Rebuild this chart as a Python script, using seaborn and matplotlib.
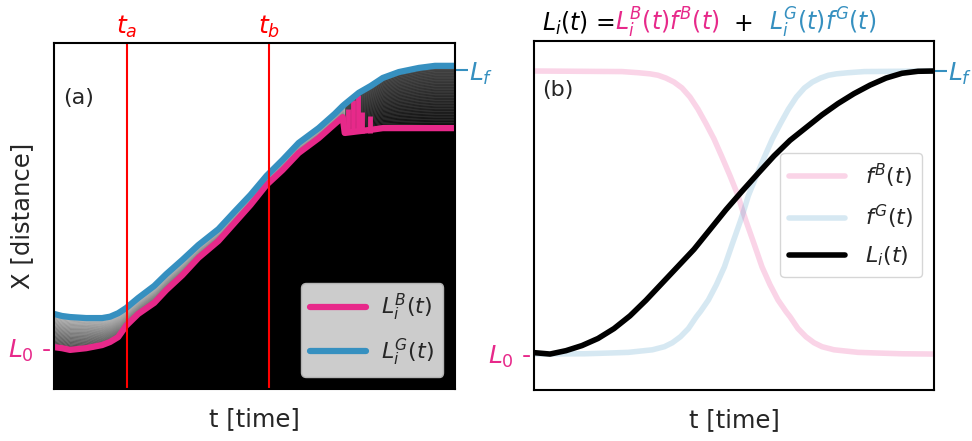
import numpy as np
import matplotlib
matplotlib.use("Agg")
import matplotlib.pyplot as plt
import seaborn as sns

sns.set_style("white")
plt.rcParams["font.family"] = ["DejaVu Sans"]
plt.rcParams["mathtext.fontset"] = "dejavusans"

PINK = "#e7298a"
BLUE = "#3690c0"

# ---- panel (a): fronts traced on the kymograph (time 0-100, distance 0-100)
time_a = [0, 2, 4, 8, 12, 14, 16, 18, 21, 25, 28, 32, 36, 41, 45, 49, 53,
          57, 61, 66, 70, 72, 72.5, 76, 79, 82, 86, 91, 95, 100]
front_G = [21.7, 21.1, 20.8, 20.5, 20.5, 20.9, 21.9, 23.4, 26.3, 29.8, 33.2,
           37.3, 41.6, 46.2, 51.2, 56.1, 61.6, 66.2, 71.1, 75.4, 79.5, 81.8,
           82.3, 85.6, 87.6, 89.9, 91.6, 92.8, 93.4, 93.4]
front_B = [12.1, 11.8, 11.3, 11.8, 12.7, 13.6, 15.0, 18.3, 21.7, 24.9, 28.6,
           32.9, 37.9, 42.8, 48.0, 53.2, 59.0, 63.3, 68.2, 72.5, 76.6, 78.6,
           74.0, 74.5, 74.9, 75.4, 75.4, 75.4, 75.4, 75.4]
spike_time = [73.3, 74.5, 75.7, 76.9, 78.8]
spike_top = [81.0, 83.5, 85.0, 80.0, 79.0]
spike_base = 74.0
t_marks = [18.2, 53.6]
t_mark_labels = [r"$t_a$", r"$t_b$"]
L0_a, Lf_a = 11.9, 92.1

# ---- panel (b): normalised weights and combined front
time_fB = [0, 22, 26, 29, 31, 33, 35, 37, 39, 41, 43, 45, 47, 49, 51, 52.3,
           53, 55, 57, 59, 61, 63, 64, 66, 68, 70, 72, 75, 81, 85, 92, 100]
f_B = [1.0, 0.998, 0.994, 0.99, 0.985, 0.975, 0.961, 0.94, 0.908, 0.865,
       0.814, 0.76, 0.696, 0.63, 0.56, 0.5, 0.47, 0.39, 0.308, 0.245, 0.191,
       0.15, 0.132, 0.09, 0.061, 0.04, 0.026, 0.015, 0.006, 0.004, 0.001, 0.0]
time_fG = [0, 12.6, 19.6, 23.6, 29.6, 32.6, 34.6, 36.6, 38.6, 40.6, 41.6,
           43.6, 45.6, 47.6, 49.6, 51.6, 52.3, 53.6, 55.6, 57.6, 59.6, 61.6,
           63.6, 65.6, 67.6, 69.6, 71.6, 73.6, 75.6, 78.6, 82.6, 100]
f_G = [0.0, 0.001, 0.004, 0.006, 0.015, 0.026, 0.04, 0.061, 0.09, 0.132,
       0.15, 0.191, 0.245, 0.308, 0.39, 0.47, 0.5, 0.56, 0.63, 0.696, 0.76,
       0.814, 0.865, 0.908, 0.94, 0.961, 0.975, 0.985, 0.99, 0.994, 0.998,
       1.0]
time_L = [0, 4, 8, 12, 16, 20, 24, 28, 32, 36, 40, 44, 48, 52, 56, 60, 64,
          68, 72, 76, 80, 84, 88, 92, 96, 100]
L_i = [0.005, 0.0, 0.012, 0.03, 0.055, 0.09, 0.135, 0.19, 0.25, 0.31, 0.37,
       0.44, 0.51, 0.575, 0.638, 0.70, 0.755, 0.80, 0.845, 0.885, 0.92, 0.95,
       0.975, 0.992, 0.999, 1.0]

fig = plt.figure(figsize=(9.72, 4.41), dpi=100)
ax_a = fig.add_axes([54 / 972, 52 / 441, 401 / 972, 346 / 441])
ax_b = fig.add_axes([534 / 972, 51 / 441, 400 / 972, 349 / 441])

# ---- panel (a)
t = np.array(time_a)
g = np.array(front_G)
b = np.array(front_B)
ax_a.fill_between(t, 0, b, color="black", lw=0, zorder=1)
n_bands = 40
for k in range(n_bands):
    f0, f1 = k / n_bands, (k + 1) / n_bands
    shade = 0.66 - 0.52 * (f0 + f1) / 2
    ax_a.fill_between(t, g + f0 * (b - g), g + f1 * (b - g),
                      color=str(shade), lw=0, zorder=1)
ax_a.fill_between(t, b, g, where=t >= 72.5, color="black", alpha=0.6,
                  lw=0, zorder=1)

ax_a.vlines(spike_time, spike_base, spike_top, color=PINK, lw=3.5, zorder=3)
sns.lineplot(x=time_a, y=front_B, ax=ax_a, color=PINK, lw=4.5, zorder=3,
             label=r"$L_i^B(t)$")
sns.lineplot(x=time_a, y=front_G, ax=ax_a, color=BLUE, lw=4.5, zorder=3,
             label=r"$L_i^G(t)$")
for tm, lab in zip(t_marks, t_mark_labels):
    ax_a.axvline(tm, color="red", lw=1.5, zorder=4)
    ax_a.text(tm, 1.01, lab, color="red", fontsize=18, ha="center",
              va="bottom", transform=ax_a.get_xaxis_transform())

ax_a.set_xlim(0, 100)
ax_a.set_ylim(0, 100)
ax_a.text(0.022, 0.84, "(a)", fontsize=16, transform=ax_a.transAxes,
          va="center", ha="left", zorder=5)
ax_a.legend(loc="lower right", bbox_to_anchor=(0.97, 0.035), borderaxespad=0,
            fontsize=16, facecolor="0.8", edgecolor="0.7", framealpha=1,
            handlelength=2.5, handletextpad=0.7, labelspacing=0.6)

# ---- panel (b)
sns.lineplot(x=time_fB, y=f_B, ax=ax_b, color=PINK, alpha=0.2, lw=4,
             label=r"$f^B(t)$")
sns.lineplot(x=time_fG, y=f_G, ax=ax_b, color=BLUE, alpha=0.2, lw=4,
             label=r"$f^G(t)$")
sns.lineplot(x=time_L, y=L_i, ax=ax_b, color="black", lw=4, label=r"$L_i(t)$")
ax_b.set_xlim(0, 100)
ax_b.set_ylim(-0.127, 1.106)
ax_b.text(0.02, 0.86, "(b)", fontsize=16, transform=ax_b.transAxes,
          va="center", ha="left")
ax_b.legend(loc="upper right", bbox_to_anchor=(0.97, 0.68), borderaxespad=0,
            fontsize=16, edgecolor="0.8", handlelength=2.5,
            handletextpad=0.9, labelspacing=0.6)

# ---- shared axis styling
for ax, L0, Lf in [(ax_a, L0_a, Lf_a), (ax_b, 0.0, 1.0)]:
    ax.set_xticks([])
    ax.set_yticks([L0], labels=[r"$L_0$ -"])
    ax.tick_params(axis="y", length=0, pad=2, labelsize=18, labelcolor=PINK)
    ax.set_xlabel("t [time]", fontsize=17.5, labelpad=13)
    for sp in ax.spines.values():
        sp.set_color("black")
        sp.set_linewidth(1.5)
        sp.set_zorder(6)
    sec = ax.secondary_yaxis("right")
    sec.set_yticks([Lf], labels=[r"$L_f$"])
    sec.tick_params(length=9, width=1.5, color=BLUE, labelcolor=BLUE,
                    labelsize=18, pad=1)
    sec.spines["right"].set_visible(False)

ax_a.set_ylabel("X [distance]", fontsize=17.5)
ax_a.yaxis.set_label_coords(-0.05, 0.5)

# ---- multi-coloured title above panel (b)
fig.canvas.draw()
renderer = fig.canvas.get_renderer()
x = 542 / 972
y = 1 - 31 / 441
pieces = [(r"$L_i(t)$ =", "black"), (r"$L_i^B(t)f^B(t)$", PINK),
          ("  +  ", "black"), (r"$L_i^G(t)f^G(t)$", BLUE)]
for s, c in pieces:
    txt = fig.text(x, y, s, color=c, fontsize=17, ha="left", va="baseline")
    x = txt.get_window_extent(renderer=renderer).x1 / fig.bbox.width

fig.savefig("out.png", dpi=100)
